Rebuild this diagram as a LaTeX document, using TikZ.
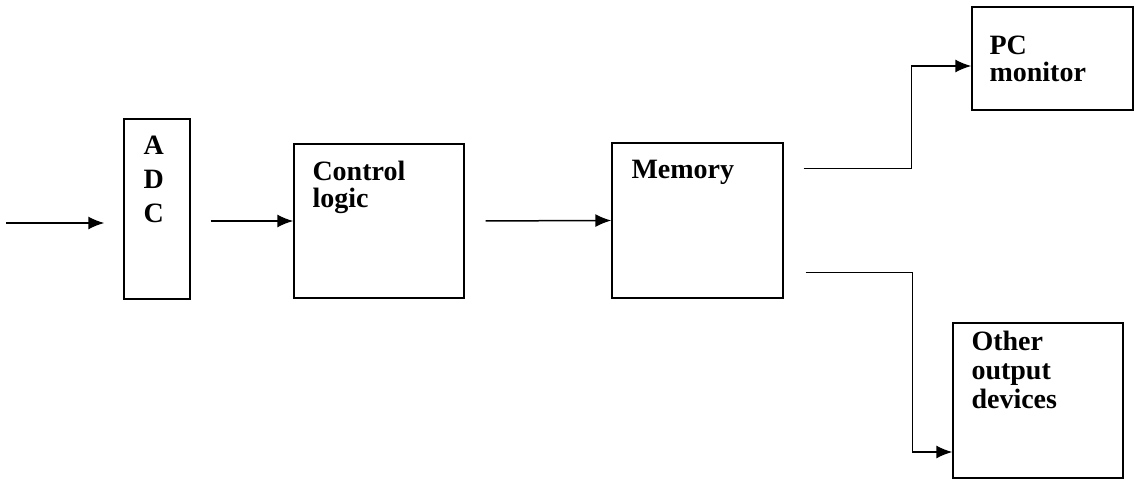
\documentclass[tikz,border=0pt]{standalone}
\usepackage{fontspec}
\setmainfont{Liberation Serif}
\usetikzlibrary{positioning,arrows.meta}
\begin{document}
\begin{tikzpicture}[x=1pt,y=-1pt,
	blk/.style={draw,line width=1.4pt,inner sep=0pt},
	lbl/.style={inner sep=0pt,align=left,font=\fontsize{28}{#1}\selectfont\bfseries},
	lbl/.default=28,
	arr/.style={line width=1.5pt,-{Latex[length=16pt,width=13pt]}}]
	\useasboundingbox (0,0) rectangle (1136,479);

	% blocks
	\node[blk,minimum width=66pt,minimum height=180pt] (adc) at (157,209) {};
	\node[blk,minimum width=170pt,minimum height=154pt] (ctrl) at (379,221) {};
	\node[blk,minimum width=171pt,minimum height=155pt] (mem) at (697.5,220.5) {};
	\node[blk,minimum width=161pt,minimum height=103pt] (pc) at (1052.5,58.5) {};
	\node[blk,minimum width=170pt,minimum height=155pt] (other) at (1038,400.5) {};

	% texts
	\node[lbl=34,below right=18pt and 20pt of adc.north west] (adctxt) {A\\D\\C};
	\node[lbl=27,below right=18pt and 19pt of ctrl.north west] (ctrltxt) {Control\\logic};
	\node[lbl,below right=18pt and 20pt of mem.north west] (memtxt) {Memory};
	\node[lbl=27,below right=29pt and 18pt of pc.north west] (pctxt) {PC\\monitor};
	\node[lbl=29,below right=9pt and 19pt of other.north west] (othertxt) {Other\\output\\devices};

	% connectors
	\coordinate (in) at (6,223);
	\draw[arr,shorten >=19pt] (in) -- (in -| adc.west);
	\draw[arr,shorten <=20pt] (adc.east |- ctrl.west) -- (ctrl.west);
	\draw[arr,shorten <=21pt] (ctrl.east) -- (mem.west);
	\draw[arr,shorten <=20pt] ([yshift=-26pt]mem.north east) -- ++(128,0) |- ([yshift=-7.5pt]pc.west);
	\draw[arr,shorten <=22pt] ([yshift=26pt]mem.south east) -- ++(129,0) |- ([yshift=-51.5pt]other.west);
\end{tikzpicture}
\end{document}
